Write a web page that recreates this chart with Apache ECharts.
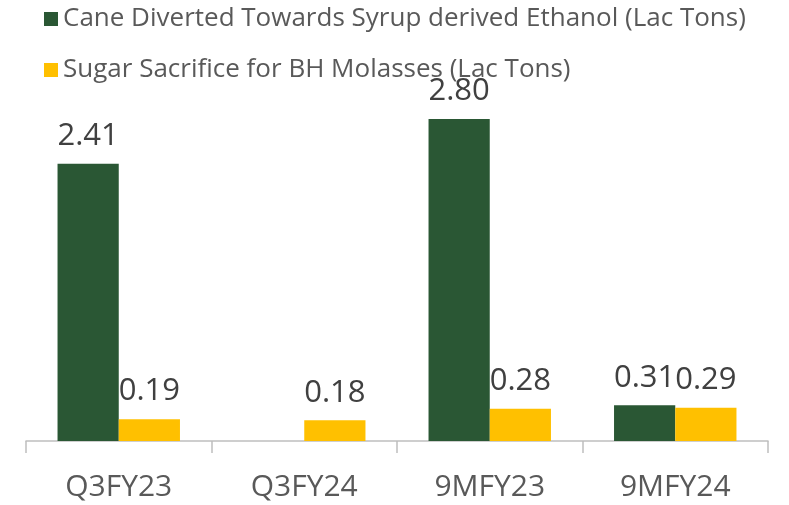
<!DOCTYPE html>
<html><head><meta charset="utf-8">
<script src="https://cdn.jsdelivr.net/npm/echarts@6/dist/echarts.min.js"></script>
<style>html,body{margin:0;padding:0;background:#fff}#c{width:789px;height:505px}</style>
</head><body><div id="c"></div>
<script>
const categories = ['Q3FY23', 'Q3FY24', '9MFY23', '9MFY24'];
const caneDiverted = [2.41, null, 2.80, 0.31];
const sugarSacrifice = [0.19, 0.18, 0.28, 0.29];
const seriesNames = ['Cane Diverted Towards Syrup derived Ethanol (Lac Tons)', 'Sugar Sacrifice for BH Molasses (Lac Tons)'];

const font = "'Open Sans', 'Noto Sans', sans-serif";
const chart = echarts.init(document.getElementById('c'));
const lbl = {
  show: true, position: 'top', distance: 12, color: '#404040', fontSize: 31, fontFamily: font,
  formatter: p => p.value == null ? '' : p.value.toFixed(2)
};
chart.setOption({
  animation: false,
  legend: {
    orient: 'vertical', left: 44, top: 6, padding: 0, itemGap: 25, itemWidth: 14, itemHeight: 14, icon: 'rect',
    textStyle: { color: '#595959', fontSize: 26, fontFamily: font },
    data: seriesNames
  },
  grid: { left: 26, right: 21, top: 96, bottom: 64 },
  xAxis: {
    type: 'category', data: categories,
    axisLine: { lineStyle: { color: '#bfbfbf', width: 1.5 } },
    axisTick: { show: true, length: 12, lineStyle: { color: '#bfbfbf', width: 1.5 } },
    axisLabel: { color: '#595959', fontSize: 30, fontFamily: font, margin: 31 }
  },
  yAxis: { type: 'value', min: 0, max: 3, show: false, splitLine: { show: false } },
  series: [
    { name: seriesNames[0], type: 'bar', data: caneDiverted, itemStyle: { color: '#2a5734' },
      barGap: '0%', barCategoryGap: '34%', label: lbl },
    { name: seriesNames[1], type: 'bar', data: sugarSacrifice, itemStyle: { color: '#ffc000' },
      barGap: '0%', barCategoryGap: '34%', label: lbl }
  ]
});
</script></body></html>
